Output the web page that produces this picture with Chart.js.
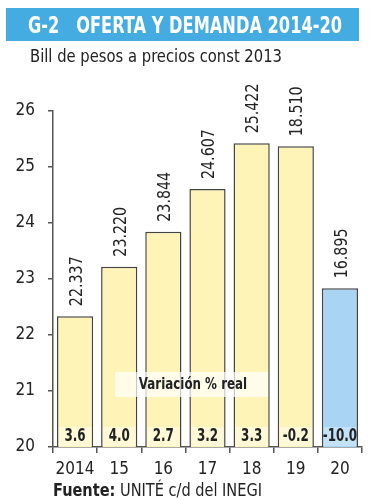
<!DOCTYPE html>
<html>
<head>
<meta charset="utf-8">
<script src="https://cdn.jsdelivr.net/npm/chart.js@4.4.1/dist/chart.umd.min.js"></script>
<style>
  body { margin:0; background:#fff; width:377px; height:500px; overflow:hidden; position:relative;
    font-family:'DejaVu Sans Condensed','DejaVu Sans',sans-serif; color:#222; }
  #wrap { position:absolute; left:0; top:0; width:377px; height:500px; }
  .band { position:absolute; left:6px; top:8px; width:353px; height:33px; background:#45ace2; }
  .fit { position:absolute; white-space:pre; transform-origin:0 0; }
  .title { left:28px; top:8px; color:#fff; font-weight:bold; font-size:23px; line-height:34px; }
  .sub { left:30px; top:45px; font-size:18px; color:#222; }
  .src { left:53px; top:479px; font-size:18px; color:#222; }
</style>
</head>
<body>
<div id="wrap"><canvas id="c" width="377" height="500"></canvas></div>
<div class="band"></div>
<div class="fit title" data-w="314">G-2   OFERTA Y DEMANDA 2014-20</div>
<div class="fit sub" data-w="252">Bill de pesos a precios const 2013</div>
<div class="fit src" data-w="209"><b>Fuente:</b> UNITÉ c/d del INEGI</div>
<script>
const years = ['2014', '15', '16', '17', '18', '19', '20'];
const values = [22.337, 23.220, 23.844, 24.607, 25.422, 25.371, 22.834];
const valueLabels = ['22.337', '23.220', '23.844', '24.607', '25.422', '18.510', '16.895'];
const variation = ['3.6', '4.0', '2.7', '3.2', '3.3', '-0.2', '-10.0'];
const yTicks = [20, 21, 22, 23, 24, 25, 26];

const FONT = "'DejaVu Sans Condensed','DejaVu Sans',sans-serif";
const barColors = years.map((y, i) => i === years.length - 1 ? '#a9d4f2' : '#fff4b8');
const lightColors = years.map((y, i) => i === years.length - 1 ? '#c4e2f7' : '#fff9d8');

document.querySelectorAll('.fit').forEach(function(el) {
  const w = el.getBoundingClientRect().width;
  el.style.transform = 'scaleX(' + (parseFloat(el.dataset.w) / w) + ')';
});

function squeezeText(ctx, text, x, y, sx) {
  ctx.save();
  ctx.translate(x, y);
  ctx.scale(sx, 1);
  ctx.fillText(text, 0, 0);
  ctx.restore();
}

const labelsPlugin = {
  id: 'labels',
  afterDatasetsDraw(chart) {
    const ctx = chart.ctx;
    const meta = chart.getDatasetMeta(0);
    const area = chart.chartArea;
    ctx.save();
    // annotation box
    ctx.fillStyle = 'rgba(255,255,255,0.7)';
    ctx.fillRect(115, 372, 153, 25);
    ctx.fillStyle = '#222';
    ctx.font = 'bold 15px ' + FONT;
    ctx.textAlign = 'center';
    ctx.textBaseline = 'middle';
    squeezeText(ctx, 'Variación % real', 193, 385, 0.88);
    meta.data.forEach((bar, i) => {
      // value label rotated
      ctx.save();
      ctx.translate(bar.x + 2, bar.y - 10);
      ctx.rotate(-Math.PI / 2);
      ctx.scale(0.88, 1);
      ctx.font = '18px ' + FONT;
      ctx.textAlign = 'left';
      ctx.textBaseline = 'middle';
      ctx.fillStyle = '#222';
      ctx.fillText(valueLabels[i], 0, 0);
      ctx.restore();
      // variation label
      const w = bar.width - 4;
      ctx.fillStyle = lightColors[i];
      ctx.fillRect(bar.x - w / 2, area.bottom - 20, w, 19);
      ctx.fillStyle = '#222';
      ctx.font = 'bold 17px ' + FONT;
      ctx.textAlign = 'center';
      ctx.textBaseline = 'middle';
      squeezeText(ctx, variation[i], bar.x, area.bottom - 10, 0.78);
    });
    ctx.restore();
  }
};

new Chart(document.getElementById('c'), {
  type: 'bar',
  data: {
    labels: years,
    datasets: [{
      data: values,
      backgroundColor: barColors,
      borderColor: '#444',
      borderWidth: 1.5,
      borderSkipped: false,
      barPercentage: 0.82,
      categoryPercentage: 1
    }]
  },
  options: {
    responsive: false,
    animation: false,
    layout: { padding: { left: 0, right: 15, top: 111, bottom: 0 } },
    plugins: { legend: { display: false }, tooltip: { enabled: false } },
    scales: {
      x: {
        afterFit(s) { s.height = 53; },
        grid: { display: true, drawOnChartArea: false, tickLength: 6, color: '#555', lineWidth: 1.5 },
        border: { color: '#555', width: 1.5 },
        ticks: { color: '#222', font: { family: FONT, size: 17 }, padding: 6, maxRotation: 0, autoSkip: false }
      },
      y: {
        min: 20, max: 26,
        afterFit(s) { s.width = 53; },
        afterBuildTicks(s) { s.ticks = yTicks.map(v => ({ value: v })); },
        grid: { display: true, drawOnChartArea: false, tickLength: 5, color: '#555', lineWidth: 1.5 },
        border: { color: '#555', width: 1.5 },
        ticks: { color: '#222', font: { family: FONT, size: 17 }, padding: 13 }
      }
    }
  },
  plugins: [labelsPlugin]
});
</script>
</body>
</html>
